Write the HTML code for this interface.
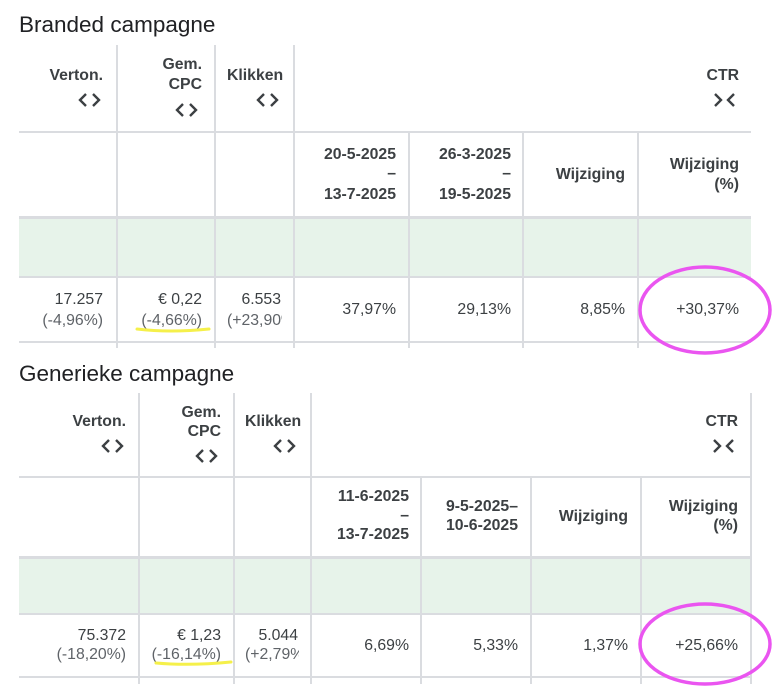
<!DOCTYPE html>
<html><head><meta charset="utf-8"><style>
body{margin:0;width:774px;height:694px;background:#fff;position:relative;overflow:hidden;font-family:"Liberation Sans",Arial,sans-serif;color:#3c4043}
.a{position:absolute;white-space:nowrap;line-height:18px;font-size:15.8px}
.r{transform:translateX(-100%)}
.b{font-weight:bold}
.g{color:#5f6368}
.t{position:absolute;font-size:22.5px;color:#202124;line-height:24px}
.h{position:absolute;height:2px;background:#dadce0}
.v{position:absolute;width:1.5px;background:#dadce0}
.gr{position:absolute;background:#e7f3ea}
.c{position:absolute}
</style></head><body>
<svg width="0" height="0" style="position:absolute"><defs>
<g id="lr"><path d="M8 1 L2 7 L8 13 M15 1 L21 7 L15 13" stroke="#3c4043" stroke-width="2.4" fill="none"/></g>
<g id="rl"><path d="M2 1 L8 7 L2 13 M21 1 L15 7 L21 13" stroke="#3c4043" stroke-width="2.4" fill="none"/></g>
</defs></svg>
<div class="t" style="left:19px;top:13px">Branded campagne</div>
<div class="gr" style="left:19px;top:217px;width:732px;height:60px"></div>
<div class="h" style="left:19px;top:131px;width:732px"></div>
<div class="h" style="left:19px;top:216px;width:732px;height:3px"></div>
<div class="h" style="left:19px;top:276px;width:732px"></div>
<div class="h" style="left:19px;top:341px;width:732px"></div>
<div class="v" style="left:116px;top:45px;height:303px"></div>
<div class="v" style="left:214px;top:45px;height:303px"></div>
<div class="v" style="left:293px;top:45px;height:303px"></div>
<div class="v" style="left:408px;top:132px;height:216px"></div>
<div class="v" style="left:522px;top:132px;height:216px"></div>
<div class="v" style="left:637px;top:132px;height:216px"></div>

<div class="a b r" style="left:103px;top:67px">Verton.</div>
<svg class="c" style="left:78px;top:93px" width="24" height="14"><use href="#lr"/></svg>
<div class="a b r" style="left:202px;top:56px">Gem.</div>
<div class="a b r" style="left:202px;top:76px">CPC</div>
<svg class="c" style="left:175px;top:103px" width="24" height="14"><use href="#lr"/></svg>
<div class="a b" style="left:227px;top:67px">Klikken</div>
<svg class="c" style="left:256px;top:93px" width="24" height="14"><use href="#lr"/></svg>
<div class="a b r" style="left:739px;top:67px">CTR</div>
<svg class="c" style="left:713px;top:93px" width="24" height="14"><use href="#rl"/></svg>
<div class="a b r" style="left:396px;top:146px">20-5-2025</div>
<div class="a b r" style="left:396px;top:165px">–</div>
<div class="a b r" style="left:396px;top:186px">13-7-2025</div>
<div class="a b r" style="left:511px;top:146px">26-3-2025</div>
<div class="a b r" style="left:511px;top:165px">–</div>
<div class="a b r" style="left:511px;top:186px">19-5-2025</div>
<div class="a b r" style="left:625px;top:166px">Wijziging</div>
<div class="a b r" style="left:739px;top:156px">Wijziging</div>
<div class="a b r" style="left:739px;top:176px">(%)</div>

<div class="a r" style="left:103px;top:291px">17.257</div>
<div class="a r g" style="left:103px;top:312px">(-4,96%)</div>
<div class="a r" style="left:202px;top:291px">€ 0,22</div>
<div class="a r g" style="left:202px;top:312px">(-4,66%)</div>
<div class="a r" style="left:281px;top:291px">6.553</div>
<div style="position:absolute;left:227px;top:312px;width:55px;height:20px;overflow:hidden"><div class="a g" style="left:0;top:0">(+23,90%)</div></div>
<div class="a r" style="left:396px;top:301px">37,97%</div>
<div class="a r" style="left:511px;top:301px">29,13%</div>
<div class="a r" style="left:625px;top:301px">8,85%</div>
<div class="a r" style="left:739px;top:301px">+30,37%</div>

<div class="t" style="left:19px;top:362px">Generieke campagne</div>
<div class="gr" style="left:19px;top:557px;width:731px;height:57px"></div>
<div class="h" style="left:19px;top:476px;width:731px"></div>
<div class="h" style="left:19px;top:556px;width:731px;height:3px"></div>
<div class="h" style="left:19px;top:613px;width:731px"></div>
<div class="h" style="left:19px;top:676px;width:731px"></div>
<div class="v" style="left:138px;top:393px;height:291px"></div>
<div class="v" style="left:233px;top:393px;height:291px"></div>
<div class="v" style="left:310px;top:393px;height:291px"></div>
<div class="v" style="left:750px;top:393px;height:291px"></div>
<div class="v" style="left:420px;top:477px;height:207px"></div>
<div class="v" style="left:530px;top:477px;height:207px"></div>
<div class="v" style="left:640px;top:477px;height:207px"></div>

<div class="a b r" style="left:126px;top:413px">Verton.</div>
<svg class="c" style="left:101px;top:439px" width="24" height="14"><use href="#lr"/></svg>
<div class="a b r" style="left:221px;top:404px">Gem.</div>
<div class="a b r" style="left:221px;top:423px">CPC</div>
<svg class="c" style="left:195px;top:449px" width="24" height="14"><use href="#lr"/></svg>
<div class="a b" style="left:245px;top:413px">Klikken</div>
<svg class="c" style="left:273px;top:439px" width="24" height="14"><use href="#lr"/></svg>
<div class="a b r" style="left:738px;top:413px">CTR</div>
<svg class="c" style="left:712px;top:439px" width="24" height="14"><use href="#rl"/></svg>
<div class="a b r" style="left:409px;top:488px">11-6-2025</div>
<div class="a b r" style="left:409px;top:507px">–</div>
<div class="a b r" style="left:409px;top:526px">13-7-2025</div>
<div class="a b r" style="left:518px;top:498px">9-5-2025–</div>
<div class="a b r" style="left:518px;top:517px">10-6-2025</div>
<div class="a b r" style="left:628px;top:508px">Wijziging</div>
<div class="a b r" style="left:738px;top:498px">Wijziging</div>
<div class="a b r" style="left:738px;top:517px">(%)</div>

<div class="a r" style="left:126px;top:627px">75.372</div>
<div class="a r g" style="left:126px;top:646px">(-18,20%)</div>
<div class="a r" style="left:221px;top:627px">€ 1,23</div>
<div class="a r g" style="left:221px;top:646px">(-16,14%)</div>
<div class="a r" style="left:298px;top:627px">5.044</div>
<div style="position:absolute;left:245px;top:646px;width:54px;height:20px;overflow:hidden"><div class="a g" style="left:0;top:0">(+2,79%)</div></div>
<div class="a r" style="left:409px;top:637px">6,69%</div>
<div class="a r" style="left:518px;top:637px">5,33%</div>
<div class="a r" style="left:628px;top:637px">1,37%</div>
<div class="a r" style="left:738px;top:637px">+25,66%</div>

<svg width="774" height="694" style="position:absolute;left:0;top:0">
<path d="M137 329 Q170 333 209 329" stroke="#f5f04a" stroke-width="3" fill="none" stroke-linecap="round"/>
<path d="M156 663 Q190 666 231 662" stroke="#f5f04a" stroke-width="3" fill="none" stroke-linecap="round"/>
<ellipse cx="705" cy="310" rx="65" ry="43" stroke="#ea55f0" stroke-width="3.5" fill="none"/>
<ellipse cx="705" cy="644" rx="65" ry="40" stroke="#ea55f0" stroke-width="3.5" fill="none"/>
</svg>
</body></html>
